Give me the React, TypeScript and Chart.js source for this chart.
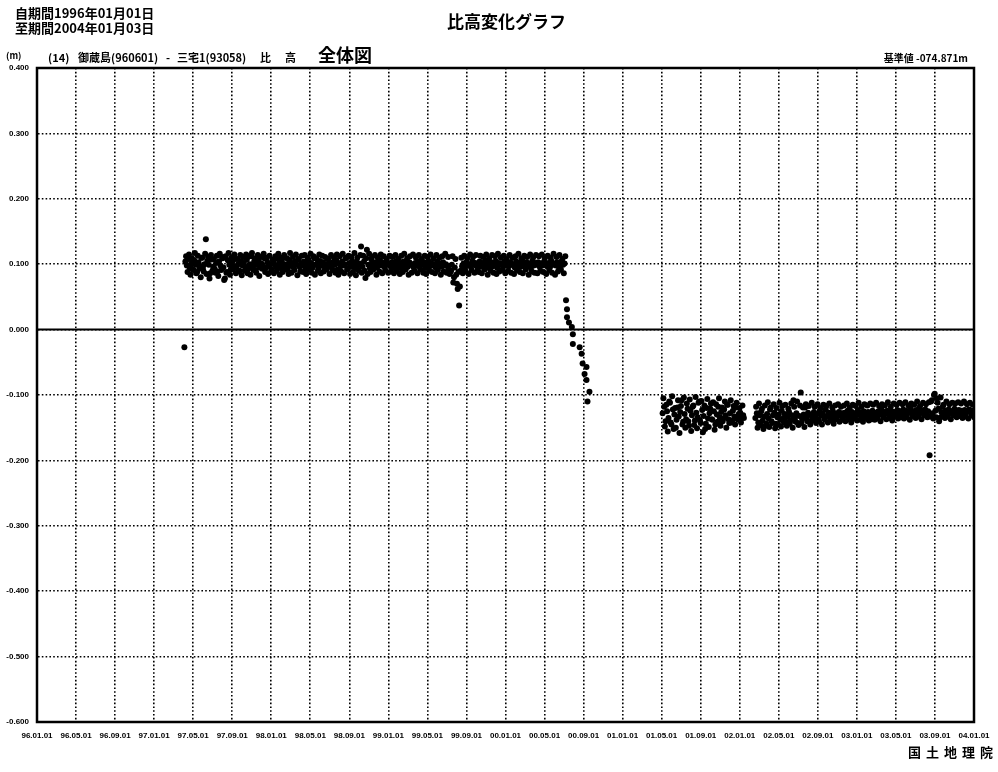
import React, { useEffect, useRef } from "react";
import { Chart, registerables } from "chart.js";
Chart.register(...registerables);

// x axis: months since 1996-01-01, ticks every 4 months
const xTickLabels = [
  "96.01.01", "96.05.01", "96.09.01", "97.01.01", "97.05.01", "97.09.01",
  "98.01.01", "98.05.01", "98.09.01", "99.01.01", "99.05.01", "99.09.01",
  "00.01.01", "00.05.01", "00.09.01", "01.01.01", "01.05.01", "01.09.01",
  "02.01.01", "02.05.01", "02.09.01", "03.01.01", "03.05.01", "03.09.01",
  "04.01.01",
];
const yTickLabels = [
  "-0.600", "-0.500", "-0.400", "-0.300", "-0.200", "-0.100",
  "0.000", "0.100", "0.200", "0.300", "0.400",
];

// Relative height (mm), two interleaved sample runs every 0.15 month
const segAStart = 15.2;
const segAStep = 0.15;
const segAValues = [
  104, 98, 108, 95, 101, 92, 106, 99, 88, 103, 97, 110, 94, 100, 138, 105, 99, 86, 107, 96,
  93, 102, 89, 104, 98, 111, 95, 78, 87, 106, 99, 92, 103, 97, 108, 94, 100, 90, 105, 98,
  102, 96, 107, 93, 100, 112, 97, 104, 91, 99, 106, 95, 101, 98, 109, 94, 103, 97, 100, 92,
  105, 99, 96, 108, 101, 94, 103, 97, 110, 100, 93, 106, 98, 102, 95, 104, 99, 107, 96, 101,
  98, 104, 93, 100, 107, 97, 102, 95, 109, 99, 101, 94, 105, 98, 103, 96, 100, 108, 97, 102,
  95, 103, 99, 106, 92, 101, 97, 104, 98, 100, 110, 94, 102, 96, 105, 99, 93, 103, 98, 101,
  127, 96, 104, 79, 122, 99, 94, 107, 101, 97, 103, 95, 100, 106, 98, 102, 96, 104, 99, 101,
  97, 103, 95, 100, 105, 98, 102, 94, 99, 104, 97, 101, 96, 103, 99, 100, 95, 102, 98, 104,
  96, 101, 99, 103, 94, 100, 105, 97, 102, 98, 100, 95, 104, 99, 101, 96, 103, 98, 100, 97,
  92, 88, 99, 72, 95, 84, 62, 37, 90, 97, 101, 94, 103, 98, 100, 96, 105, 99, 102, 97,
  100, 104, 96, 102, 99, 106, 95, 101, 98, 103, 97, 100, 105, 94, 102, 99, 101, 96, 104, 98,
  101, 97, 103, 99, 100, 95, 104, 98, 102, 96, 107, 100, 97, 103, 99, 101, 94, 105, 98, 102,
  99, 103, 96, 101, 98, 104, 100, 97, 102, 95, 105, 99, 101, 98, 103, 96, 100, 104, 99, 101,
];
const segA2Start = 15.275;
const segA2Values = [
  112, 88, 115, 84, 109, 91, 117, 86, 113, 93, 80, 110, 89, 116, 85, 111, 78, 114, 90, 108,
  87, 113, 82, 116, 91, 109, 76, 112, 88, 117, 84, 110, 92, 115, 86, 108, 89, 114, 83, 111,
  90, 115, 86, 112, 84, 117, 91, 109, 87, 114, 82, 111, 93, 116, 88, 110, 85, 113, 89, 107,
  86, 112, 90, 116, 84, 110, 88, 114, 92, 109, 85, 117, 87, 111, 91, 115, 83, 108, 89, 113,
  88, 114, 85, 110, 91, 116, 87, 112, 84, 109, 90, 115, 86, 113, 89, 111, 92, 108, 85, 114,
  91, 110, 87, 115, 84, 112, 89, 116, 86, 109, 92, 113, 85, 111, 88, 117, 83, 110, 90, 114,
  87, 113, 90, 109, 85, 116, 88, 111, 92, 114, 84, 110, 89, 115, 86, 112, 91, 108, 87, 113,
  89, 111, 86, 114, 90, 108, 85, 113, 88, 116, 92, 109, 84, 112, 87, 115, 90, 110, 86, 114,
  92, 108, 87, 113, 85, 111, 90, 115, 88, 109, 86, 114, 91, 110, 84, 112, 89, 116, 87, 111,
  85, 90, 112, 80, 108, 70, 88, 66, 110, 86, 113, 89, 109, 85, 115, 91, 111, 87, 114, 90,
  88, 113, 86, 111, 92, 115, 84, 109, 90, 114, 87, 112, 85, 116, 89, 110, 91, 113, 86, 108,
  90, 114, 87, 110, 85, 112, 91, 116, 88, 109, 86, 113, 92, 111, 84, 115, 89, 110, 87, 114,
  86, 112, 90, 115, 88, 109, 85, 113, 91, 110, 87, 116, 84, 111, 89, 114, 92, 108, 86, 112,
];

// Isolated readings
const outlierMonths = [15.1];
const outlierValues = [-27];

// Rapid subsidence (2000 Miyake-jima activity)
const dropMonths = [54.2, 54.3, 54.3, 54.5, 54.8, 54.9, 54.9, 55.6, 55.8, 55.9, 56.3, 56.1, 56.3, 56.6, 56.4];
const dropValues = [45, 31, 19, 11, 4, -7, -22, -27, -37, -52, -57, -68, -77, -95, -110];

const segCStart = 64.1;
const segCStep = 0.15;
const segCValues = [
  -128, -118, -140, -125, -135, -112, -145, -122, -130, -150, -119, -133, -126, -108, -141, -129, -137, -121, -147, -124,
  -131, -116, -139, -127, -134, -110, -143, -123, -132, -152, -120, -136, -128, -113, -138, -125, -145, -130, -118, -134,
  -126, -140, -122, -131, -115, -137, -128, -142, -124, -133, -119, -136, -129, -127, -134, -131,
];
const segC2Start = 64.175;
const segC2Values = [
  -105, -148, -115, -156, -110, -142, -102, -152, -120, -138, -108, -158, -117, -145, -104, -150, -113, -140, -107, -155,
  -118, -146, -103, -151, -112, -139, -109, -157, -116, -144, -106, -149, -121, -137, -111, -153, -114, -141, -105, -147,
  -119, -136, -110, -150, -115, -143, -108, -139, -117, -145, -112, -138, -120, -142, -116, -135,
];

const segDStart = 73.6;
const segDStep = 0.15;
const segDValues = [
  -135, -128, -142, -131, -125, -139, -133, -147, -129, -136, -122, -140, -131, -127, -144, -134, -130, -138, -124, -136,
  -129, -141, -133, -126, -139, -131, -108, -135, -128, -143, -132, -96, -137, -130, -119, -134, -127, -140, -131, -136,
  -126, -133, -129, -137, -124, -131, -128, -135, -122, -132, -127, -134, -130, -125, -136, -129, -133, -126, -131, -128,
  -134, -127, -130, -124, -132, -129, -126, -135, -128, -131, -123, -130, -127, -133, -125, -129, -131, -126, -132, -128,
  -124, -130, -127, -133, -125, -129, -122, -131, -126, -128, -124, -130, -127, -125, -132, -126, -129, -123, -128, -125,
  -127, -122, -130, -124, -128, -126, -121, -129, -125, -127, -123, -128, -120, -126, -124, -129, -122, -127, -125, -192,
  -110, -128, -100, -124, -105, -121, -135, -126, -118, -129, -124, -127, -122, -126, -128, -124, -121, -127, -125, -123,
  -126, -124, -128, -123, -127, -125, -122, -126, -124, -127,
];
const segD2Start = 73.675;
const segD2Values = [
  -118, -150, -113, -146, -121, -152, -116, -144, -111, -149, -119, -143, -114, -151, -120, -145, -112, -148, -117, -142,
  -115, -147, -121, -144, -113, -150, -118, -141, -110, -146, -116, -143, -119, -149, -114, -140, -117, -145, -112, -139,
  -118, -143, -114, -140, -120, -145, -115, -138, -117, -142, -113, -139, -119, -144, -116, -137, -114, -141, -118, -138,
  -116, -140, -113, -137, -119, -142, -115, -136, -117, -139, -112, -138, -118, -141, -114, -135, -116, -139, -113, -137,
  -115, -138, -112, -136, -117, -140, -114, -134, -116, -137, -111, -135, -118, -139, -113, -133, -115, -136, -112, -134,
  -114, -136, -111, -134, -116, -138, -113, -132, -115, -135, -110, -133, -117, -137, -112, -131, -114, -134, -111, -133,
  -108, -136, -98, -134, -112, -140, -104, -132, -115, -135, -110, -133, -114, -137, -112, -131, -113, -134, -111, -132,
  -113, -135, -110, -133, -114, -136, -112, -131, -115, -134,
];

function addRun(pts: { x: number; y: number }[], start: number, step: number, values: number[]) {
  values.forEach((v, i) => pts.push({ x: start + i * step, y: v / 1000 }));
}

function buildPoints() {
  const pts: { x: number; y: number }[] = [];
  addRun(pts, segAStart, segAStep, segAValues);
  addRun(pts, segA2Start, segAStep, segA2Values);
  outlierValues.forEach((v, i) => pts.push({ x: outlierMonths[i], y: v / 1000 }));
  dropValues.forEach((v, i) => pts.push({ x: dropMonths[i], y: v / 1000 }));
  addRun(pts, segCStart, segCStep, segCValues);
  addRun(pts, segC2Start, segCStep, segC2Values);
  addRun(pts, segDStart, segDStep, segDValues);
  addRun(pts, segD2Start, segDStep, segD2Values);
  return pts;
}

const framePlugin = {
  id: "frameAndZero",
  beforeDatasetsDraw(chart: any) {
    const { ctx, chartArea: a, scales } = chart;
    const y0 = scales.y.getPixelForValue(0);
    ctx.save();
    ctx.strokeStyle = "#000";
    ctx.setLineDash([]);
    ctx.lineWidth = 2;
    ctx.beginPath();
    ctx.moveTo(a.left, y0);
    ctx.lineTo(a.right, y0);
    ctx.stroke();
    ctx.lineWidth = 2.5;
    ctx.strokeRect(a.left, a.top, a.right - a.left, a.bottom - a.top);
    ctx.restore();
  },
};

export default function App() {
  const ref = useRef<HTMLCanvasElement | null>(null);
  useEffect(() => {
    document.body.style.margin = "0";
    const tickFont = { family: "'Liberation Sans', Arial, sans-serif", size: 8, weight: "bold" as const };
    const chart = new Chart(ref.current!, {
      type: "scatter",
      data: {
        datasets: [
          {
            data: buildPoints(),
            backgroundColor: "#000",
            borderWidth: 0,
            pointRadius: 3,
          },
        ],
      },
      options: {
        animation: false,
        responsive: false,
        maintainAspectRatio: false,
        layout: { padding: { top: 68, left: 0, right: 24, bottom: 0 } },
        plugins: { legend: { display: false }, tooltip: { enabled: false } },
        scales: {
          x: {
            type: "linear",
            min: 0,
            max: 96,
            afterFit: (s: any) => {
              s.height = 50;
              s.paddingLeft = 0;
              s.paddingRight = 0;
            },
            ticks: {
              stepSize: 4,
              autoSkip: false,
              maxRotation: 0,
              padding: 9,
              color: "#000",
              font: tickFont,
              callback: (v: any) => xTickLabels[Math.round(Number(v) / 4)] ?? "",
            },
            grid: { color: "#000", lineWidth: 1.6, drawTicks: false },
            border: { display: true, color: "#000", width: 2, dash: [1.6, 2.2] },
          },
          y: {
            type: "linear",
            min: -0.6,
            max: 0.4,
            afterFit: (s: any) => {
              s.width = 37;
              s.paddingTop = 0;
              s.paddingBottom = 0;
            },
            ticks: {
              stepSize: 0.1,
              padding: 8,
              color: "#000",
              font: tickFont,
              callback: (v: any) => yTickLabels[Math.round(Number(v) * 10) + 6] ?? "",
            },
            grid: { color: "#000", lineWidth: 1.6, drawTicks: false },
            border: { display: true, color: "#000", width: 2, dash: [1.6, 2.2] },
          },
        },
      },
      plugins: [framePlugin],
    });
    return () => chart.destroy();
  }, []);

  const cjk = "'Noto Sans CJK JP', 'Noto Sans', sans-serif";
  const base: React.CSSProperties = { position: "absolute", fontFamily: cjk, fontWeight: 700, color: "#000", whiteSpace: "nowrap", lineHeight: 1 };

  return (
    <div style={{ position: "fixed", left: 0, top: 0, width: 998, height: 772, background: "#fff" }}>
      <canvas ref={ref} width={998} height={772} style={{ position: "absolute", left: 0, top: 0, width: 998, height: 772 }} />
      <div style={{ ...base, left: 15, top: 6, fontSize: 13 }}>自期間1996年01月01日</div>
      <div style={{ ...base, left: 15, top: 21, fontSize: 13 }}>至期間2004年01月03日</div>
      <div style={{ ...base, left: 447, top: 12, fontSize: 17 }}>比高変化グラフ</div>
      <div style={{ ...base, left: 6, top: 51, fontSize: 9 }}>(m)</div>
      <div style={{ ...base, left: 48, top: 52, fontSize: 11 }}>(14)</div>
      <div style={{ ...base, left: 78, top: 52, fontSize: 11 }}>御蔵島(960601)</div>
      <div style={{ ...base, left: 166, top: 52, fontSize: 11 }}>-</div>
      <div style={{ ...base, left: 177, top: 52, fontSize: 11 }}>三宅1(93058)</div>
      <div style={{ ...base, left: 260, top: 52, fontSize: 11 }}>比</div>
      <div style={{ ...base, left: 285, top: 52, fontSize: 11 }}>高</div>
      <div style={{ ...base, left: 318, top: 45, fontSize: 18 }}>全体図</div>
      <div style={{ ...base, right: 998 - 968, top: 53, fontSize: 10 }}>基準値 -074.871m</div>
      <div style={{ ...base, left: 908, top: 745, fontSize: 13, letterSpacing: 5 }}>国土地理院</div>
    </div>
  );
}
